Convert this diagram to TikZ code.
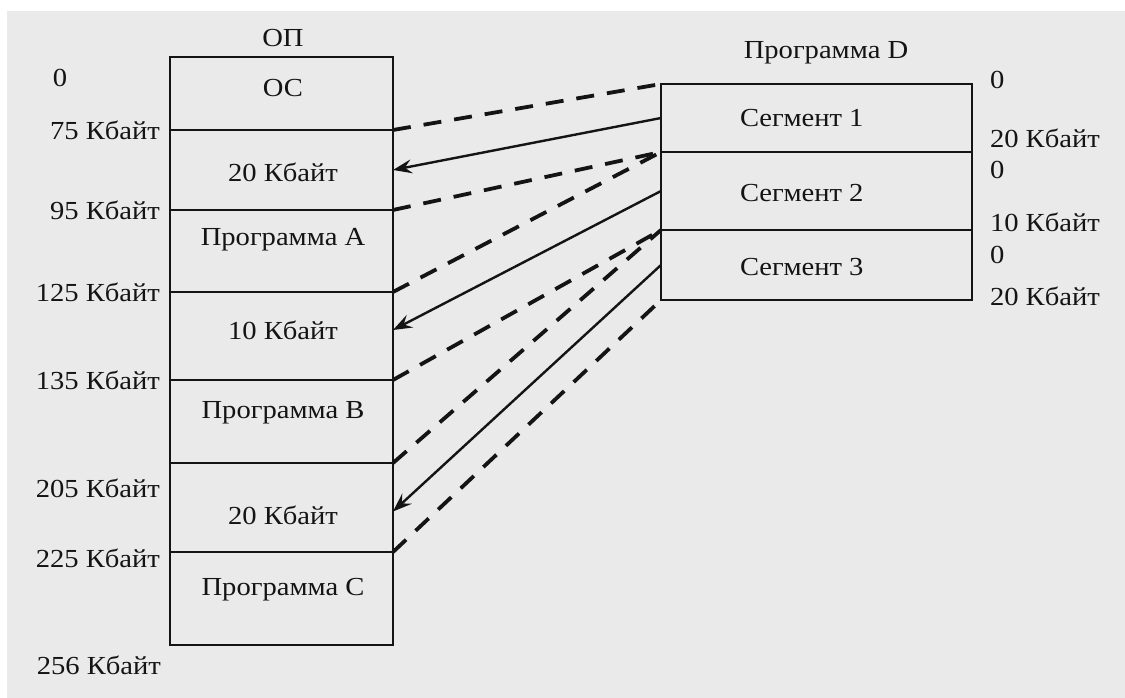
\documentclass[tikz,border=0pt]{standalone}
\usepackage{fontspec}
\setmainfont{Liberation Serif}[FakeStretch=1.1]
\usetikzlibrary{arrows.meta}
\definecolor{paper}{RGB}{234,234,234}
\definecolor{ink}{RGB}{20,20,20}
\begin{document}
\begin{tikzpicture}[x=1pt,y=-1pt,
  txt/.style={inner sep=0pt,outer sep=0pt,text=ink,font=\fontsize{26}{30}\selectfont},
  cell/.style={draw=ink,line width=2.6pt,inner sep=0pt,outer sep=0pt,minimum width=#1},
  cellL/.style={cell=223pt},
  cellR/.style={cell=311pt},
  bound/.style={draw=ink,line width=3.8pt,dash pattern=on 18pt off 13pt},
  mapto/.style={draw=ink,line width=2.4pt,-{Stealth[length=19pt,width=14pt,inset=7pt]}}]
\useasboundingbox (0,0) rectangle (1125,698);
\fill[white] (0,0) rectangle (1125,698);
\fill[paper] (7,11) rectangle (1125,698);
% left memory column (OP)
\node[cellL,minimum height=73pt]  (os) at (281.5,93.5) {};
\node[cellL,minimum height=80pt]  (f1) at (281.5,170) {};
\node[cellL,minimum height=82pt]  (pa) at (281.5,251) {};
\node[cellL,minimum height=88pt]  (f2) at (281.5,336) {};
\node[cellL,minimum height=83pt]  (pb) at (281.5,421.5) {};
\node[cellL,minimum height=89pt]  (f3) at (281.5,507.5) {};
\node[cellL,minimum height=93pt]  (pc) at (281.5,598.5) {};
% texts in left column
\node[txt] (top) at (283,38) {ОП};
\node[txt] (tos) at (283,88) {ОС};
\node[txt] (tf1) at (283,172) {20 Кбайт};
\node[txt] (tpa) at (283,240) {Программа A};
\node[txt] (tf2) at (283,330) {10 Кбайт};
\node[txt] (tpb) at (283,413) {Программа B};
\node[txt] (tf3) at (283,515) {20 Кбайт};
\node[txt] (tpc) at (283,590) {Программа C};
% addresses on the left
\node[txt] (a0) at (60,78) {0};
\node[txt,anchor=east] (a75) at (160,130) {75 Кбайт};
\node[txt,anchor=east] (a95) at (160,210) {95 Кбайт};
\node[txt,anchor=east] (a125) at (160,292) {125 Кбайт};
\node[txt,anchor=east] (a135) at (160,380) {135 Кбайт};
\node[txt,anchor=east] (a205) at (160,488) {205 Кбайт};
\node[txt,anchor=east] (a225) at (160,558) {225 Кбайт};
\node[txt,anchor=east] (a256) at (161,665) {256 Кбайт};
% program D segments
\node[txt] (tpd) at (826,53) {Программа D};
\node[cellR,minimum height=68pt] (s1) at (816.5,118) {};
\node[cellR,minimum height=78pt] (s2) at (816.5,191) {};
\node[cellR,minimum height=70pt] (s3) at (816.5,265) {};
\node[txt,anchor=west] (ts1) at (740,118) {Сегмент 1};
\node[txt,anchor=west] (ts2) at (740,193) {Сегмент 2};
\node[txt,anchor=west] (ts3) at (740,267) {Сегмент 3};
% offsets on the right
\node[txt,anchor=west] (r0a) at (990,80) {0};
\node[txt,anchor=west] (r20a) at (990,138) {20 Кбайт};
\node[txt,anchor=west] (r0b) at (990,170) {0};
\node[txt,anchor=west] (r10) at (990,222) {10 Кбайт};
\node[txt,anchor=west] (r0c) at (990,255) {0};
\node[txt,anchor=west] (r20b) at (990,296) {20 Кбайт};
% boundary correspondences (dashed)
\draw[bound] (f1.north east) -- (s1.north west);
\draw[bound] (f1.south east) -- (s1.south west);
\draw[bound] (f2.north east) -- (s2.north west);
\draw[bound] (f2.south east) -- (s2.south west);
\draw[bound] (f3.north east) -- (s3.north west);
\draw[bound] (f3.south east) -- (s3.south west);
% segment placement (solid arrows)
\draw[mapto] (s1.west) -- (f1.east);
\draw[mapto] (s2.west) -- ([yshift=6pt]f2.east);
\draw[mapto] (s3.west) -- ([yshift=-4pt]f3.east);
\end{tikzpicture}
\end{document}
